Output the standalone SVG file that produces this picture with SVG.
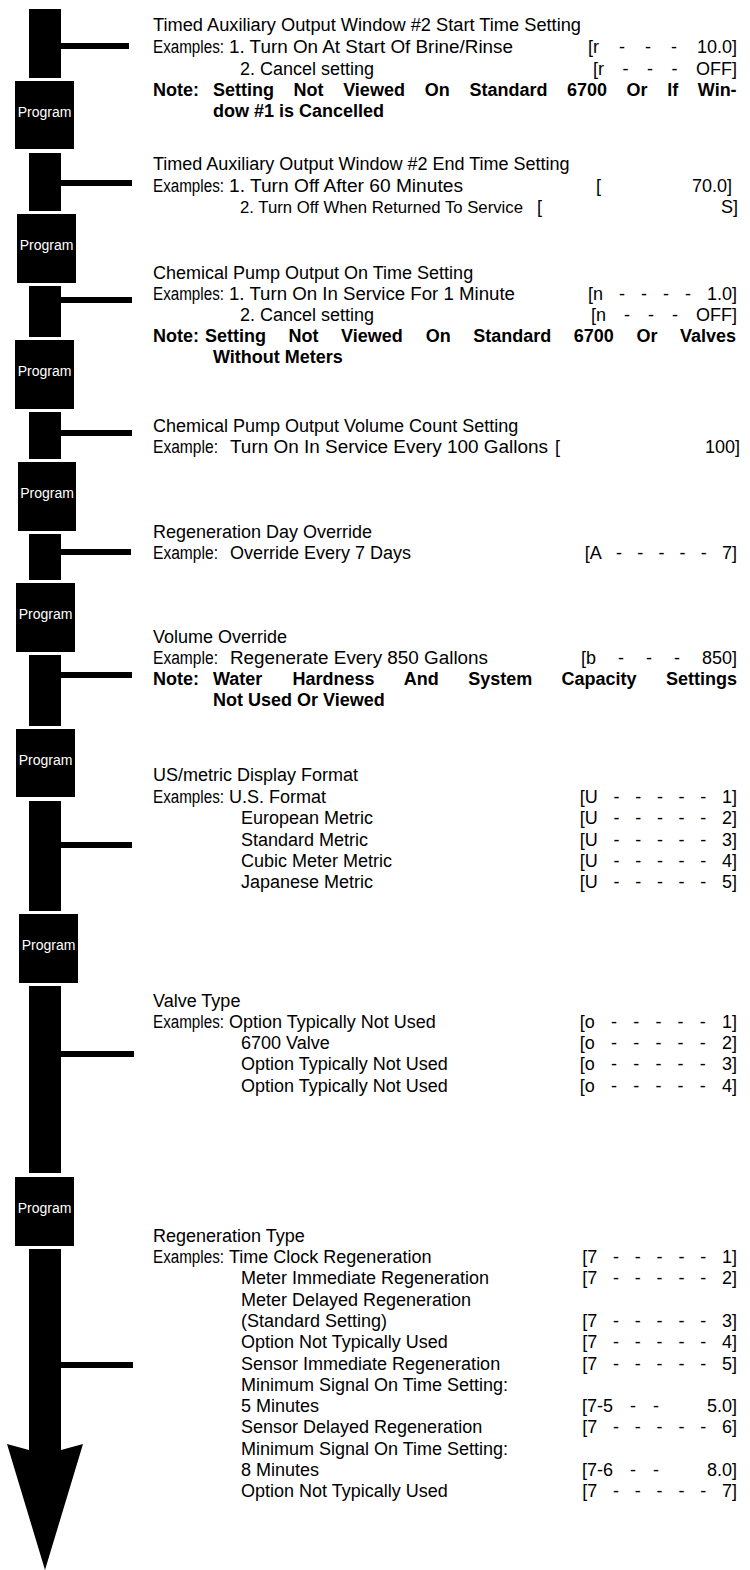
<svg xmlns="http://www.w3.org/2000/svg" width="750" height="1570" viewBox="0 0 750 1570">
<style>
.t{font-family:"Liberation Sans",Arial,sans-serif;font-size:18px;fill:#000}
.b{font-weight:bold}
.v{text-anchor:end}
.p{font-family:"Liberation Sans",Arial,sans-serif;font-size:14px;fill:#fff;text-anchor:middle}
.k{fill:#000}
</style>
<rect width="750" height="1570" fill="#fff"/>
<g id="connectors" class="k">
<rect x="29" y="9" width="32" height="69"/><rect x="61" y="43" width="68" height="6"/>
<rect x="29" y="153" width="32" height="58"/><rect x="61" y="180" width="71" height="6"/>
<rect x="29" y="286" width="32" height="51"/><rect x="61" y="297" width="71" height="6"/>
<rect x="29" y="412" width="32" height="47"/><rect x="61" y="430" width="71" height="6"/>
<rect x="29" y="534" width="32" height="46"/><rect x="61" y="549" width="70" height="6"/>
<rect x="29" y="655" width="32" height="71"/><rect x="61" y="672" width="71" height="6"/>
<rect x="29" y="801" width="32" height="110"/><rect x="61" y="842" width="71" height="6"/>
<rect x="29" y="986" width="32" height="187"/><rect x="61" y="1051" width="73" height="6"/>
<polygon points="29,1249 61,1249 61,1450 83,1444 45,1570 7,1444 29,1450"/><rect x="61" y="1362" width="72" height="6"/>
</g>
<g id="program1"><rect class="k" x="15" y="81" width="59" height="68"/><text class="p" x="44.5" y="117">Program</text></g>
<g id="program2"><rect class="k" x="17" y="214" width="59" height="69"/><text class="p" x="46.5" y="250">Program</text></g>
<g id="program3"><rect class="k" x="15" y="340" width="59" height="69"/><text class="p" x="44.5" y="376">Program</text></g>
<g id="program4"><rect class="k" x="18" y="462" width="58" height="69"/><text class="p" x="47" y="498">Program</text></g>
<g id="program5"><rect class="k" x="16" y="583" width="59" height="69"/><text class="p" x="45.5" y="619">Program</text></g>
<g id="program6"><rect class="k" x="16" y="729" width="59" height="68"/><text class="p" x="45.5" y="765">Program</text></g>
<g id="program7"><rect class="k" x="19" y="914" width="59" height="69"/><text class="p" x="48.5" y="950">Program</text></g>
<g id="program8"><rect class="k" x="15" y="1177" width="59" height="69"/><text class="p" x="44.5" y="1213">Program</text></g>

<g id="step1" class="t">
<text x="153" y="31" textLength="428" lengthAdjust="spacingAndGlyphs">Timed Auxiliary Output Window #2 Start Time Setting</text>
<text x="153" y="53" textLength="71" lengthAdjust="spacingAndGlyphs">Examples:</text>
<text x="229" y="53" textLength="284" lengthAdjust="spacingAndGlyphs">1. Turn On At Start Of Brine/Rinse</text>
<text class="v" x="737" y="53" word-spacing="15">[r - - - 10.0]</text>
<text x="240" y="75">2. Cancel setting</text>
<text class="v" x="737" y="75" word-spacing="13.5">[r - - - OFF]</text>
<text class="b" y="96"><tspan x="153">Note:</tspan><tspan x="213">Setting</tspan><tspan x="293.6">Not</tspan><tspan x="343.2">Viewed</tspan><tspan x="424.8">On</tspan><tspan x="469.4">Standard</tspan><tspan x="567">6700</tspan><tspan x="626.6">Or</tspan><tspan x="667.2">If</tspan><tspan x="697.8">Win-</tspan></text>
<text class="b" x="213" y="117">dow #1 is Cancelled</text>
</g>

<g id="step2" class="t">
<text x="153" y="170">Timed Auxiliary Output Window #2 End Time Setting</text>
<text x="153" y="192" textLength="71" lengthAdjust="spacingAndGlyphs">Examples:</text>
<text x="229" y="192" textLength="234" lengthAdjust="spacingAndGlyphs">1. Turn Off After 60 Minutes</text>
<text y="192"><tspan x="596">[</tspan><tspan x="692">70.0]</tspan></text>
<text x="240" y="213" font-size="17" textLength="283" lengthAdjust="spacingAndGlyphs">2. Turn Off When Returned To Service</text>
<text y="213"><tspan x="537">[</tspan><tspan x="721">S]</tspan></text>
</g>

<g id="step3" class="t">
<text x="153" y="279">Chemical Pump Output On Time Setting</text>
<text x="153" y="300" textLength="71" lengthAdjust="spacingAndGlyphs">Examples:</text>
<text x="229" y="300" textLength="286" lengthAdjust="spacingAndGlyphs">1. Turn On In Service For 1 Minute</text>
<text class="v" x="737" y="300" word-spacing="11">[n - - - - 1.0]</text>
<text x="240" y="321">2. Cancel setting</text>
<text class="v" x="737" y="321" word-spacing="13">[n - - - OFF]</text>
<text class="b" y="342"><tspan x="153">Note:</tspan><tspan x="205">Setting</tspan><tspan x="288.6">Not</tspan><tspan x="341.1">Viewed</tspan><tspan x="425.7">On</tspan><tspan x="473.3">Standard</tspan><tspan x="573.8">6700</tspan><tspan x="636.4">Or</tspan><tspan x="680">Valves</tspan></text>
<text class="b" x="213" y="363">Without Meters</text>
</g>

<g id="step4" class="t">
<text x="153" y="432">Chemical Pump Output Volume Count Setting</text>
<text x="153" y="453" textLength="65" lengthAdjust="spacingAndGlyphs">Example:</text>
<text x="230" y="453" textLength="318" lengthAdjust="spacingAndGlyphs">Turn On In Service Every 100 Gallons</text>
<text y="453"><tspan x="555">[</tspan><tspan x="705">100]</tspan></text>
</g>

<g id="step5" class="t">
<text x="153" y="538">Regeneration Day Override</text>
<text x="153" y="559" textLength="65" lengthAdjust="spacingAndGlyphs">Example:</text>
<text x="230" y="559">Override Every 7 Days</text>
<text class="v" x="737" y="559" word-spacing="10.2">[A - - - - - 7]</text>
</g>

<g id="step6" class="t">
<text x="153" y="643">Volume Override</text>
<text x="153" y="664" textLength="65" lengthAdjust="spacingAndGlyphs">Example:</text>
<text x="230" y="664" textLength="258" lengthAdjust="spacingAndGlyphs">Regenerate Every 850 Gallons</text>
<text class="v" x="737" y="664" word-spacing="17">[b - - - 850]</text>
<text class="b" y="685"><tspan x="153">Note:</tspan><tspan x="213">Water</tspan><tspan x="292.4">Hardness</tspan><tspan x="403.8">And</tspan><tspan x="468.2">System</tspan><tspan x="561.6">Capacity</tspan><tspan x="666">Settings</tspan></text>
<text class="b" x="213" y="706">Not Used Or Viewed</text>
</g>

<g id="step7" class="t">
<text x="153" y="781">US/metric Display Format</text>
<text x="153" y="803" textLength="71" lengthAdjust="spacingAndGlyphs">Examples:</text>
<text x="229" y="803">U.S. Format</text>
<text class="v" x="737" y="803" word-spacing="10.7">[U - - - - - 1]</text>
<text x="241" y="824">European Metric</text>
<text class="v" x="737" y="824" word-spacing="10.7">[U - - - - - 2]</text>
<text x="241" y="846">Standard Metric</text>
<text class="v" x="737" y="846" word-spacing="10.7">[U - - - - - 3]</text>
<text x="241" y="867">Cubic Meter Metric</text>
<text class="v" x="737" y="867" word-spacing="10.7">[U - - - - - 4]</text>
<text x="241" y="888">Japanese Metric</text>
<text class="v" x="737" y="888" word-spacing="10.7">[U - - - - - 5]</text>
</g>

<g id="step8" class="t">
<text x="153" y="1007">Valve Type</text>
<text x="153" y="1028" textLength="71" lengthAdjust="spacingAndGlyphs">Examples:</text>
<text x="229" y="1028">Option Typically Not Used</text>
<text class="v" x="737" y="1028" word-spacing="11.2">[o - - - - - 1]</text>
<text x="241" y="1049">6700 Valve</text>
<text class="v" x="737" y="1049" word-spacing="11.2">[o - - - - - 2]</text>
<text x="241" y="1070">Option Typically Not Used</text>
<text class="v" x="737" y="1070" word-spacing="11.2">[o - - - - - 3]</text>
<text x="241" y="1092">Option Typically Not Used</text>
<text class="v" x="737" y="1092" word-spacing="11.2">[o - - - - - 4]</text>
</g>

<g id="step9" class="t">
<text x="153" y="1242">Regeneration Type</text>
<text x="153" y="1263" textLength="71" lengthAdjust="spacingAndGlyphs">Examples:</text>
<text x="229" y="1263">Time Clock Regeneration</text>
<text class="v" x="737" y="1263" word-spacing="10.8">[7 - - - - - 1]</text>
<text x="241" y="1284">Meter Immediate Regeneration</text>
<text class="v" x="737" y="1284" word-spacing="10.8">[7 - - - - - 2]</text>
<text x="241" y="1306">Meter Delayed Regeneration</text>
<text x="241" y="1327">(Standard Setting)</text>
<text class="v" x="737" y="1327" word-spacing="10.8">[7 - - - - - 3]</text>
<text x="241" y="1348">Option Not Typically Used</text>
<text class="v" x="737" y="1348" word-spacing="10.8">[7 - - - - - 4]</text>
<text x="241" y="1370">Sensor Immediate Regeneration</text>
<text class="v" x="737" y="1370" word-spacing="10.8">[7 - - - - - 5]</text>
<text x="241" y="1391">Minimum Signal On Time Setting:</text>
<text x="241" y="1412">5 Minutes</text>
<text class="v" x="737" y="1412" word-spacing="12"><tspan>[7-5 - -</tspan><tspan dx="31"> 5.0]</tspan></text>
<text x="241" y="1433">Sensor Delayed Regeneration</text>
<text class="v" x="737" y="1433" word-spacing="10.8">[7 - - - - - 6]</text>
<text x="241" y="1455">Minimum Signal On Time Setting:</text>
<text x="241" y="1476">8 Minutes</text>
<text class="v" x="737" y="1476" word-spacing="12"><tspan>[7-6 - -</tspan><tspan dx="31"> 8.0]</tspan></text>
<text x="241" y="1497">Option Not Typically Used</text>
<text class="v" x="737" y="1497" word-spacing="10.8">[7 - - - - - 7]</text>
</g>
</svg>
